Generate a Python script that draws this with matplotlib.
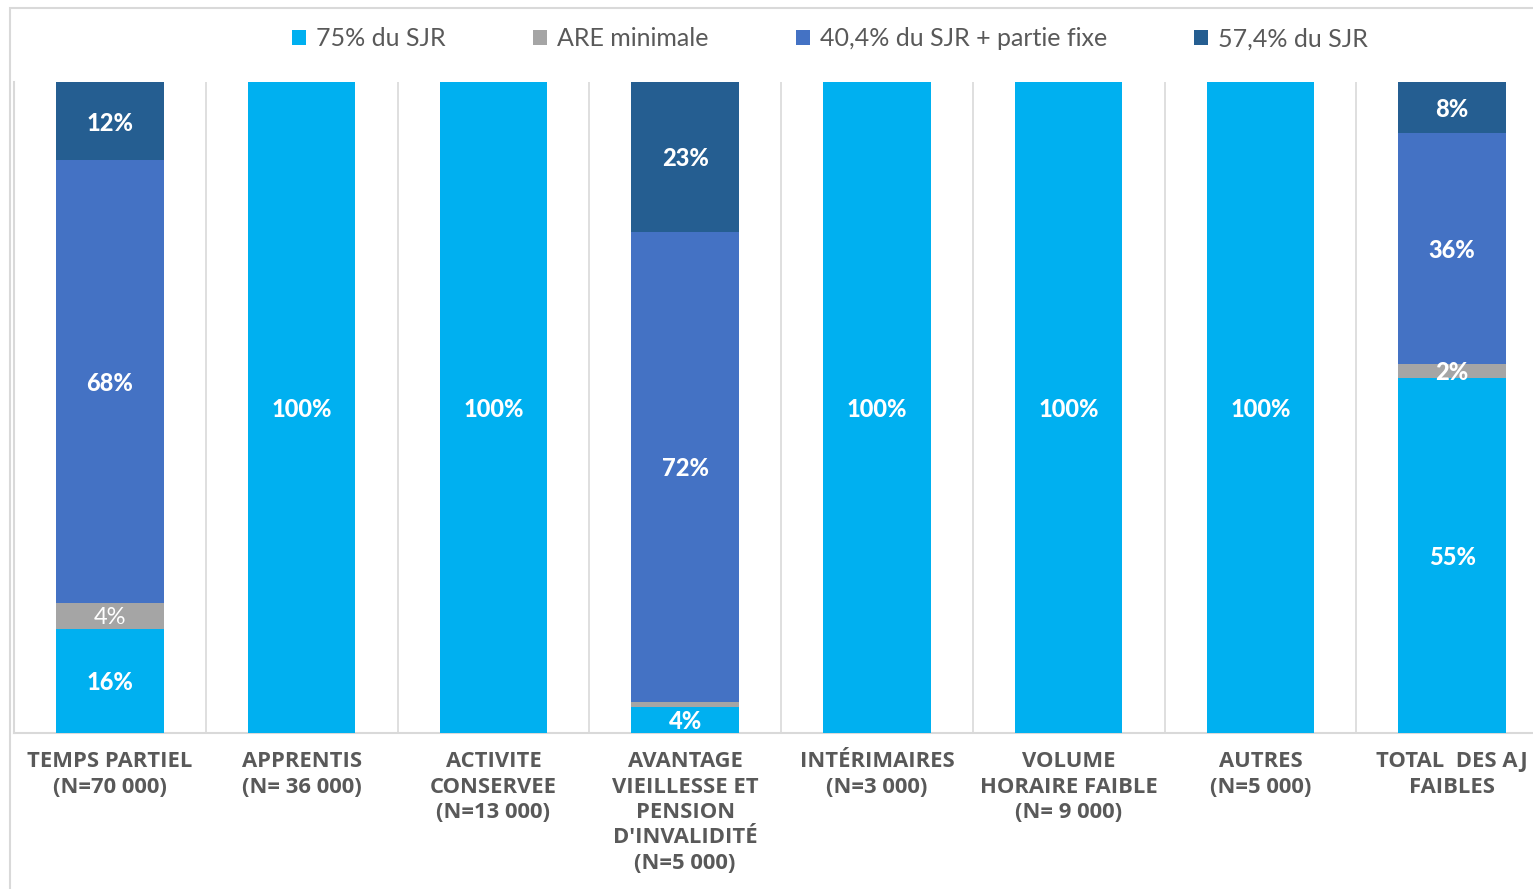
import numpy as np
import matplotlib
matplotlib.use("Agg")
import matplotlib.pyplot as plt
from matplotlib import font_manager as fm
from matplotlib.patches import Rectangle

# categories and shares (%)
categories = ["TEMPS PARTIEL\n(N=70 000)", "APPRENTIS\n(N= 36 000)",
              "ACTIVITE\nCONSERVEE\n(N=13 000)",
              "AVANTAGE\nVIEILLESSE ET\nPENSION\nD'INVALIDITÉ\n(N=5 000)",
              "INTÉRIMAIRES\n(N=3 000)", "VOLUME\nHORAIRE FAIBLE\n(N= 9 000)",
              "AUTRES\n(N=5 000)", "TOTAL  DES AJ\nFAIBLES"]
series_names = ["75% du SJR", "ARE minimale", "40,4% du SJR + partie fixe", "57,4% du SJR"]
sjr_75 = [16, 100, 100, 4, 100, 100, 100, 54.6]
are_min = [4, 0, 0, 0.8, 0, 0, 0, 2.1]
sjr_404 = [68, 0, 0, 72.2, 0, 0, 0, 35.5]
sjr_574 = [12, 0, 0, 23, 0, 0, 0, 7.8]
colors = ["#00B0F0", "#A5A5A5", "#4472C4", "#255E91"]


def font_file(names, size, weight):
    # pick a font by its file name, the family lookup does not always give the wanted cut
    files = {f.fname.split("/")[-1]: f.fname for f in fm.fontManager.ttflist}
    for n in names:
        if n in files:
            return fm.FontProperties(fname=files[n], size=size)
    return fm.FontProperties(family=["Open Sans", "DejaVu Sans"], weight=weight, size=size)


bold_lab = font_file(["Lato-Heavy.ttf", "Lato-ExtraBold.ttf", "Lato-Bold.ttf"], 17, "bold")
reg_lab = font_file(["Lato-Regular.ttf"], 17, "normal")
cat_font = font_file(["OpenSans-Bold.ttf", "NotoSans-Bold.ttf"], 15.8, "bold")
leg_font = font_file(["Lato-Regular.ttf"], 18, "normal")

W, H = 1533, 889
fig = plt.figure(figsize=(W / 100, H / 100), dpi=100)
ax = fig.add_axes([14 / W, 1 - 733 / H, 1534 / W, (733 - 82) / H])

# outer frame of the chart
fig.patches.append(Rectangle((10 / W, -0.1), 2, 1.1 - 8 / H, transform=fig.transFigure,
                             fill=False, edgecolor="#D9D9D9", linewidth=1.5))

x = np.arange(len(categories))
bottom = np.zeros(len(categories))
for name, vals, col in zip(series_names, [sjr_75, are_min, sjr_404, sjr_574], colors):
    vals = np.array(vals, dtype=float)
    ax.bar(x, vals, 0.56, bottom=bottom, color=col, label=name, zorder=3)
    for xi, b, v in zip(x, bottom, vals):
        if v >= 1.5:
            fp = reg_lab if (col == "#A5A5A5" and v > 3) else bold_lab
            ax.text(xi, b + v / 2 - 0.3, f"{round(v):d}%", ha="center", va="center",
                    color="white", fontproperties=fp, zorder=4)
    bottom += vals

ax.set_xlim(-0.5, len(categories) - 0.5)
ax.set_ylim(0, 100)
for xb in np.arange(0.5, len(categories) - 0.5):
    ax.axvline(xb, color="#D9D9D9", linewidth=1.2, zorder=1)
for s in ["top", "right"]:
    ax.spines[s].set_visible(False)
for s in ["bottom", "left"]:
    ax.spines[s].set_color("#D9D9D9")
    ax.spines[s].set_linewidth(1.5)
ax.set_yticks([])
ax.set_xticks(x)
ax.set_xticklabels(categories, fontproperties=cat_font, color="#595959", linespacing=1.28)
ax.tick_params(axis="x", length=0, pad=13)

fig.legend(loc="center", bbox_to_anchor=(830 / W, 1 - 39 / H), ncol=4, frameon=False,
           prop=leg_font, labelcolor="#595959",
           handlelength=0.55, handleheight=0.55, handletextpad=0.4, columnspacing=3.5)

fig.savefig("out.png", dpi=100)
